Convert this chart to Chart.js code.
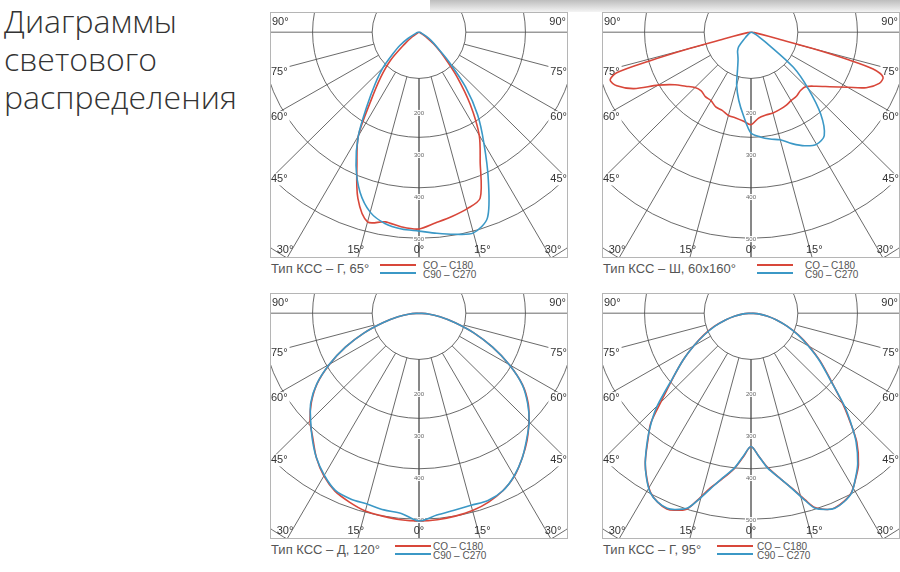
<!DOCTYPE html>
<html>
<head>
<meta charset="utf-8">
<script src="https://cdn.jsdelivr.net/npm/chart.js@4"></script>
<style>
  body { margin: 0; width: 900px; height: 572px; background: #fff; position: relative; overflow: hidden; font-family: "Liberation Sans", Arial, sans-serif; }
  .title { position: absolute; left: 4px; top: 2px; font-family: "Open Sans", sans-serif; font-weight: 300; font-size: 32px; line-height: 38px; color: #333; }
  .shade { position: absolute; left: 430px; top: 0; width: 470px; height: 12px; background: linear-gradient(#bdbdbd, #f4f4f4); }
  .box { position: absolute; width: 298px; height: 246px; }
  .cap { position: absolute; font-size: 13px; color: #555; }
  .leg { position: absolute; font-size: 10px; color: #555; line-height: 9px; }
  .ln { position: absolute; height: 2px; }
</style>
</head>
<body>
<div class="shade"></div>
<div class="title">Диаграммы<br>светового<br>распределения</div>

<div class="box" style="left:270px;top:12px"><canvas id="c1"></canvas></div>
<div class="box" style="left:602px;top:12px"><canvas id="c2"></canvas></div>
<div class="box" style="left:270px;top:293px"><canvas id="c3"></canvas></div>
<div class="box" style="left:602px;top:293px"><canvas id="c4"></canvas></div>

<div id="caps"></div>

<script>
// angles from nadir, degrees; intensities (left side / right side)
const ANG1 = [0, 5, 10, 15, 20, 25, 30, 35, 40, 45, 50, 55, 60, 70, 80, 90];
const G65_C0_L  = [468, 465, 458, 467, 420, 345, 285, 195, 140, 95, 45, 20, 5, 1, 0, 0];
const G65_C0_R  = [465, 455, 445, 435, 420, 340, 283, 210, 140, 85, 50, 20, 8, 2, 0, 0];
const G65_C90_L = [473, 470, 462, 443, 405, 350, 285, 212, 160, 120, 80, 55, 30, 8, 2, 0];
const G65_C90_R = [473, 480, 488, 494, 470, 385, 305, 240, 170, 100, 55, 35, 20, 5, 1, 0];

const ANG2 = [0, 5, 10, 15, 20, 25, 30, 35, 40, 45, 50, 55, 60, 64, 68, 71, 73, 74, 75, 76, 78, 82, 90];
const SH_C0_L  = [220, 212, 207, 205, 198, 196, 188, 187, 182, 186, 200, 218, 252, 306, 340, 350, 330, 250, 150, 60, 25, 8, 0];
const SH_C0_R  = [220, 205, 200, 199, 196, 193, 188, 186, 181, 183, 200, 226, 262, 301, 325, 328, 300, 240, 150, 60, 25, 8, 0];
const SH_C90_L = [240, 200, 165, 130, 92, 72, 62, 55, 45, 20, 10, 5, 2, 1, 0, 0, 0, 0, 0, 0, 0, 0, 0];
const SH_C90_R = [240, 250, 258, 265, 282, 298, 308, 300, 255, 190, 130, 45, 20, 12, 8, 5, 3, 2, 2, 1, 1, 0, 0];

const ANG3 = [0, 5, 10, 15, 20, 25, 30, 35, 40, 45, 50, 55, 60, 65, 70, 75, 80, 85, 90];
const D120_C0_L  = [494, 493, 490, 487, 478, 467, 447, 420, 388, 362, 330, 292, 242, 190, 137, 88, 50, 22, 0];
const D120_C0_R  = [494, 493, 490, 486, 478, 466, 448, 422, 395, 365, 335, 297, 245, 190, 137, 88, 50, 22, 0];
const D120_C90_L = [494, 478, 475, 470, 470, 465, 445, 420, 390, 360, 332, 293, 243, 190, 137, 88, 50, 22, 0];
const D120_C90_R = [494, 482, 476, 473, 474, 466, 447, 422, 393, 366, 333, 296, 245, 190, 137, 88, 50, 22, 0];

const ANG4 = [0, 3, 6, 10, 13, 16, 18, 21, 23, 26, 29, 32, 35, 39, 42, 45, 50, 55, 60, 65, 70, 75, 80, 85, 90];
const G95_C0_L  = [317, 342, 371, 402, 427, 465, 490, 502, 506, 500, 487, 462, 433, 384, 352, 300, 239, 195, 155, 122, 92, 62, 38, 18, 0];
const G95_C0_R  = [317, 340, 368, 400, 427, 462, 486, 500, 503, 498, 487, 464, 440, 395, 348, 305, 242, 198, 158, 124, 90, 62, 38, 18, 0];
const G95_C90_L = [317, 340, 370, 400, 430, 466, 488, 500, 504, 500, 488, 463, 433, 386, 350, 311, 240, 195, 155, 120, 90, 62, 38, 18, 0];
const G95_C90_R = [317, 340, 370, 400, 428, 464, 488, 500, 504, 499, 488, 463, 437, 392, 350, 309, 240, 196, 155, 121, 90, 62, 38, 18, 0];

const CIRCLES = [110, 250, 370, 490, 620];
const RAYS = [0, 15, 30, 45, 60, 75, 90];
const RADIAL_TICKS = [200, 300, 400, 500];

const CAPTIONS = ['Тип КСС – Г, 65°', 'Тип КСС – Ш,  60x160°', 'Тип КСС – Д, 120°', 'Тип КСС – Г, 95°'];
const LEGEND = ['CO – C180', 'C90 – C270'];
const RED = '#d8473a', BLUE = '#3b98c6';

function polar(ang, left, right) {
  const pts = [];
  for (let i = ang.length - 1; i >= 0; i--) {
    const a = ang[i] * Math.PI / 180;
    pts.push({x: -left[i] * Math.sin(a), y: left[i] * Math.cos(a)});
  }
  for (let i = 1; i < ang.length; i++) {
    const a = ang[i] * Math.PI / 180;
    pts.push({x: right[i] * Math.sin(a), y: right[i] * Math.cos(a)});
  }
  return pts;
}

const gridPlugin = {
  id: 'polarGrid',
  beforeDatasetsDraw(chart) {
    const {ctx, chartArea: ca, scales: {x, y}} = chart;
    const ox = x.getPixelForValue(0), oy = y.getPixelForValue(0);
    const kx = Math.abs(x.getPixelForValue(100) - ox) / 100;
    const ky = Math.abs(y.getPixelForValue(100) - oy) / 100;
    ctx.save();
    ctx.beginPath();
    ctx.rect(ca.left, ca.top, ca.width, ca.height);
    ctx.clip();
    ctx.strokeStyle = '#444';
    ctx.lineWidth = 0.8;
    CIRCLES.forEach(r => {
      ctx.beginPath();
      ctx.ellipse(ox, oy, r * kx, r * ky, 0, 0, Math.PI * 2);
      ctx.stroke();
    });
    const r0 = CIRCLES[0], far = 2000;
    RAYS.forEach(d => {
      const a = d * Math.PI / 180;
      [-1, 1].forEach(s => {
        ctx.beginPath();
        ctx.moveTo(ox + s * r0 * Math.sin(a) * kx, oy + r0 * Math.cos(a) * ky);
        ctx.lineTo(ox + s * far * Math.sin(a) * kx, oy + far * Math.cos(a) * ky);
        ctx.stroke();
      });
    });
    ctx.font = '6px "Liberation Sans", sans-serif';
    ctx.textAlign = 'center';
    ctx.textBaseline = 'middle';
    RADIAL_TICKS.forEach(v => {
      const py = y.getPixelForValue(v - 8);
      ctx.fillStyle = '#fff';
      ctx.fillRect(ox - 6, py - 3, 12, 6);
      ctx.fillStyle = '#666';
      ctx.fillText(String(v), ox, py);
    });
    // angle labels where rays leave the frame
    ctx.font = '11px "Liberation Sans", sans-serif';
    ctx.fillStyle = '#333';
    RAYS.forEach(d => {
      const a = d * Math.PI / 180;
      [-1, 1].forEach(s => {
        if (d === 0 && s === 1) return;
        const dx = s * Math.sin(a) * kx, dy = Math.cos(a) * ky;
        const tSide = dx !== 0 ? (s < 0 ? (ca.left - ox) / dx : (ca.right - ox) / dx) : Infinity;
        const tBot = dy > 1e-6 ? (ca.bottom - oy) / dy : Infinity;
        const label = d + '°';
        if (d === 90) {
          ctx.textAlign = s < 0 ? 'left' : 'right';
          ctx.fillText(label, s < 0 ? ca.left + 2 : ca.right - 2, oy - 10);
        } else if (tSide < tBot) {
          const py = oy + dy * tSide;
          const w = ctx.measureText(label).width + 3;
          ctx.fillStyle = '#fff';
          ctx.fillRect(s < 0 ? ca.left : ca.right - w, py - 6, w, 12);
          ctx.fillStyle = '#333';
          ctx.textAlign = s < 0 ? 'left' : 'right';
          ctx.fillText(label, s < 0 ? ca.left + 1 : ca.right - 1, py);
        } else {
          const px = ox + dx * tBot;
          ctx.textAlign = 'center';
          ctx.fillText(label, d === 0 ? px : px + s * 2, ca.bottom - 8);
        }
      });
    });
    ctx.restore();
  },
  afterDraw(chart) {
    const {ctx, chartArea: ca} = chart;
    ctx.save();
    ctx.strokeStyle = '#b5b5b5';
    ctx.lineWidth = 1;
    ctx.strokeRect(ca.left + 0.5, ca.top + 0.5, ca.width - 1, ca.height - 1);
    ctx.restore();
  }
};

function makeChart(id, c0, c90) {
  new Chart(document.getElementById(id), {
    type: 'scatter',
    data: {
      datasets: [
        {data: c90, borderColor: BLUE, showLine: true, pointRadius: 0, borderWidth: 1.6, tension: 0.3, fill: false},
        {data: c0, borderColor: RED, showLine: true, pointRadius: 0, borderWidth: 1.6, tension: 0.3, fill: false}
      ]
    },
    options: {
      responsive: true,
      maintainAspectRatio: false,
      animation: false,
      layout: {padding: 0},
      scales: {
        x: {type: 'linear', min: -350, max: 350, display: false},
        y: {type: 'linear', min: -48, max: 537, reverse: true, display: false}
      },
      plugins: {legend: {display: false}, tooltip: {enabled: false}}
    },
    plugins: [gridPlugin]
  });
}

makeChart('c1', polar(ANG1, G65_C0_L, G65_C0_R), polar(ANG1, G65_C90_L, G65_C90_R));
makeChart('c2', polar(ANG2, SH_C0_L, SH_C0_R), polar(ANG2, SH_C90_L, SH_C90_R));
makeChart('c3', polar(ANG3, D120_C0_L, D120_C0_R), polar(ANG3, D120_C90_L, D120_C90_R));
makeChart('c4', polar(ANG4, G95_C0_L, G95_C0_R), polar(ANG4, G95_C90_L, G95_C90_R));

// captions and legends under each frame
const capPos = [[271, 261, 380, 423], [603, 261, 757, 805], [271, 542, 395, 433], [603, 542, 717, 757]];
const caps = document.getElementById('caps');
capPos.forEach((p, i) => {
  caps.insertAdjacentHTML('beforeend',
    `<div class="cap" style="left:${p[0]}px;top:${p[1]}px">${CAPTIONS[i]}</div>` +
    `<div class="ln" style="left:${p[2]}px;top:${p[1] + 3}px;width:36px;background:${RED}"></div>` +
    `<div class="ln" style="left:${p[2]}px;top:${p[1] + 11}px;width:36px;background:${BLUE}"></div>` +
    `<div class="leg" style="left:${p[3]}px;top:${p[1]}px">${LEGEND[0]}<br>${LEGEND[1]}</div>`);
});
</script>
</body>
</html>
